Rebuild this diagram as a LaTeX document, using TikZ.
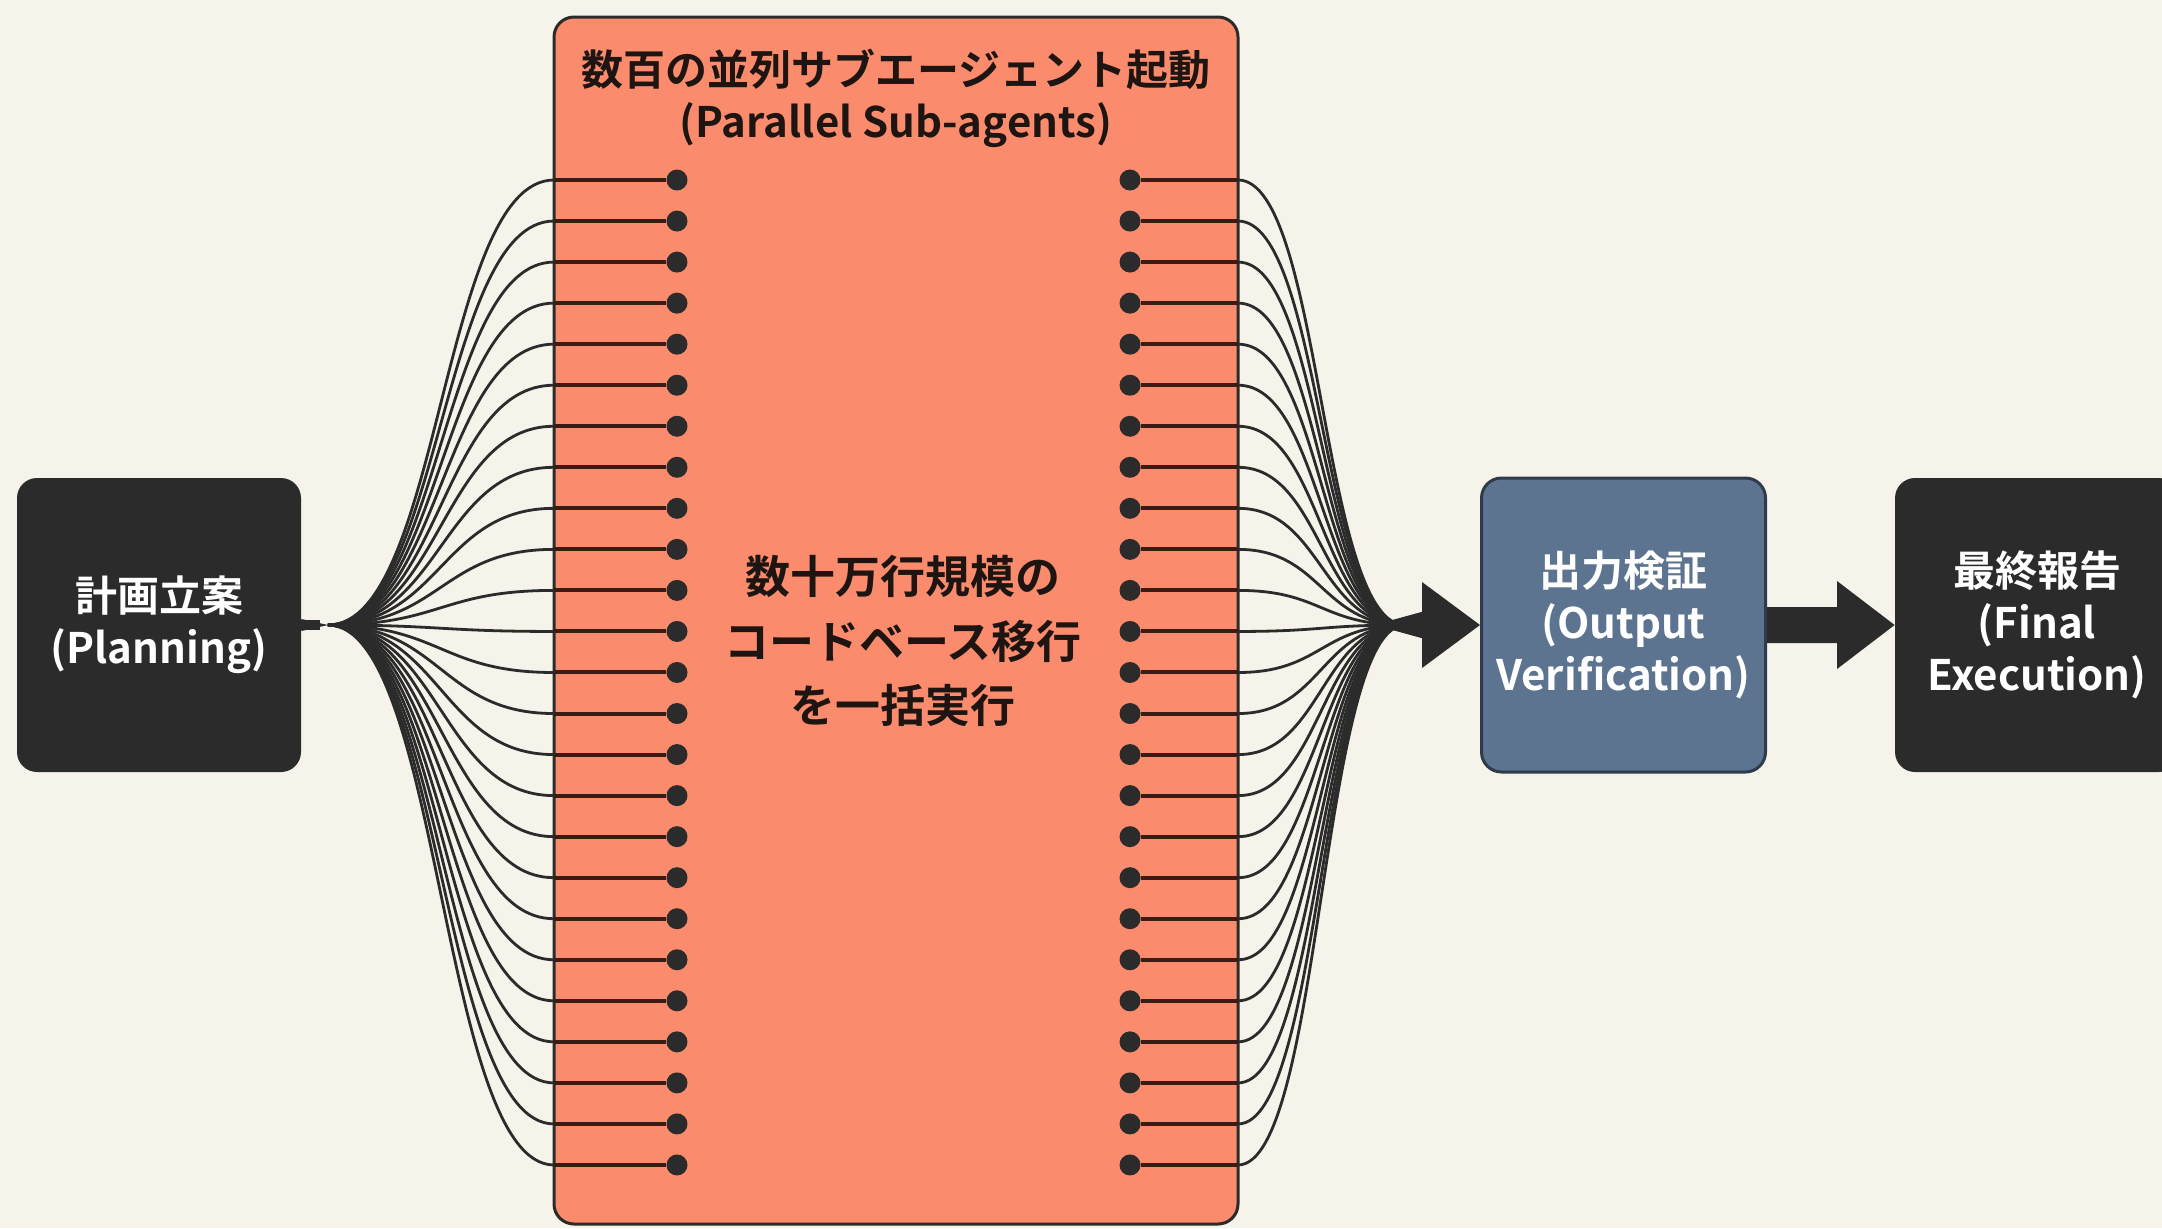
\documentclass[tikz,border=0pt]{standalone}
\usepackage{fontspec}
\setmainfont{Noto Sans CJK JP}[BoldFont={* Bold}]
\usetikzlibrary{calc}
\definecolor{bg}{HTML}{F6F3EA}
\definecolor{orng}{HTML}{FA8C6D}
\definecolor{dark}{HTML}{2B2B2B}
\definecolor{slate}{HTML}{5D7491}
\definecolor{slateedge}{HTML}{2F3B4A}
\definecolor{stubc}{HTML}{3A1C14}
\definecolor{ink}{HTML}{1E1512}
\begin{document}
\begin{tikzpicture}[x=0.5pt,y=-0.5pt,
  box/.style={rounded corners=10pt, minimum width=142pt, minimum height=147pt, inner sep=0pt},
  darkbox/.style={box, fill=dark},
  lbl/.style={text=white, font=\fontsize{21}{26}\selectfont\bfseries, align=center},
  dotn/.style={circle, fill=dark, inner sep=0pt, minimum size=10.5pt},
  wire/.style={draw=dark, line width=1.4pt},
  stub/.style={draw=stubc, line width=2pt},
  bigarrow/.style={fill=dark}]
\clip (0,0) rectangle (2162,1228);
\fill[bg] (0,0) rectangle (2162,1228);

% main boxes
\node[darkbox, lbl] (plan) at (159,625) {計画立案\\(Planning)};
\node[box, fill=slate, draw=slateedge, line width=1.5pt, lbl] (out) at (1623.5,625) {出力検証\\(Output\\Verification)};
\node[darkbox, lbl] (fin) at (2037,625) {最終報告\\(Final\\Execution)};

% orange container
\node[rounded corners=10pt, fill=orng, draw=dark, line width=1.5pt, minimum width=342pt, minimum height=603.5pt, inner sep=0pt] (par) at (896,620.5) {};
\node[text=ink, font=\fontsize{21}{26}\selectfont\bfseries, align=center] (ttl) at (896,98) {数百の並列サブエージェント起動\\(Parallel Sub-agents)};
\node[text=ink, font=\fontsize{22.5}{32.3}\selectfont\bfseries, align=center] (task) at (903,641) {数十万行規模の\\コードベース移行\\を一括実行};

% convergence points
\coordinate (lc) at (328,625);
\coordinate (rc) at (1405,625);

% sub-agent ports
\foreach \i in {0,...,24}{
  \pgfmathsetmacro{\yy}{180+\i*41.04}
  \coordinate (LE\i) at (554,\yy);
  \coordinate (RE\i) at (1238,\yy);
  \draw[wire] (lc) .. controls +(113,0) and +(-113,0) .. (LE\i);
  \draw[wire] (RE\i) .. controls +(84,0) and +(-84,0) .. (rc);
  \node[dotn] (L\i) at (677,\yy) {};
  \node[dotn] (R\i) at (1130,\yy) {};
  \draw[stub] (LE\i) -- (L\i);
  \draw[stub] (R\i) -- (RE\i);
}

% stems (bundle cores)
\fill[dark] (plan.east) ++(0,-6) -- (lc) -- ($(plan.east)+(0,6)$) -- cycle;
\fill[dark] ($(plan.east)+(0,-5)$) rectangle ($(lc)+(-8,5)$);
\fill[dark] (rc) ++(-20,-3) -- ($(out.west)+(-55,-14)$) -- ($(out.west)+(-55,14)$) -- ($(rc)+(-20,3)$) -- cycle;

% arrowhead into verification
\fill[bigarrow] ($(out.west)+(-58,-43)$) -- (out.west) -- ($(out.west)+(-58,43)$) -- cycle;

% arrow verification -> final
\fill[bigarrow] ($(out.east)+(0,-18)$) -- ($(out.east)+(70,-18)$) -- ($(out.east)+(70,-44)$)
  -- (fin.west) -- ($(out.east)+(70,44)$) -- ($(out.east)+(70,18)$) -- ($(out.east)+(0,18)$) -- cycle;
\end{tikzpicture}
\end{document}
